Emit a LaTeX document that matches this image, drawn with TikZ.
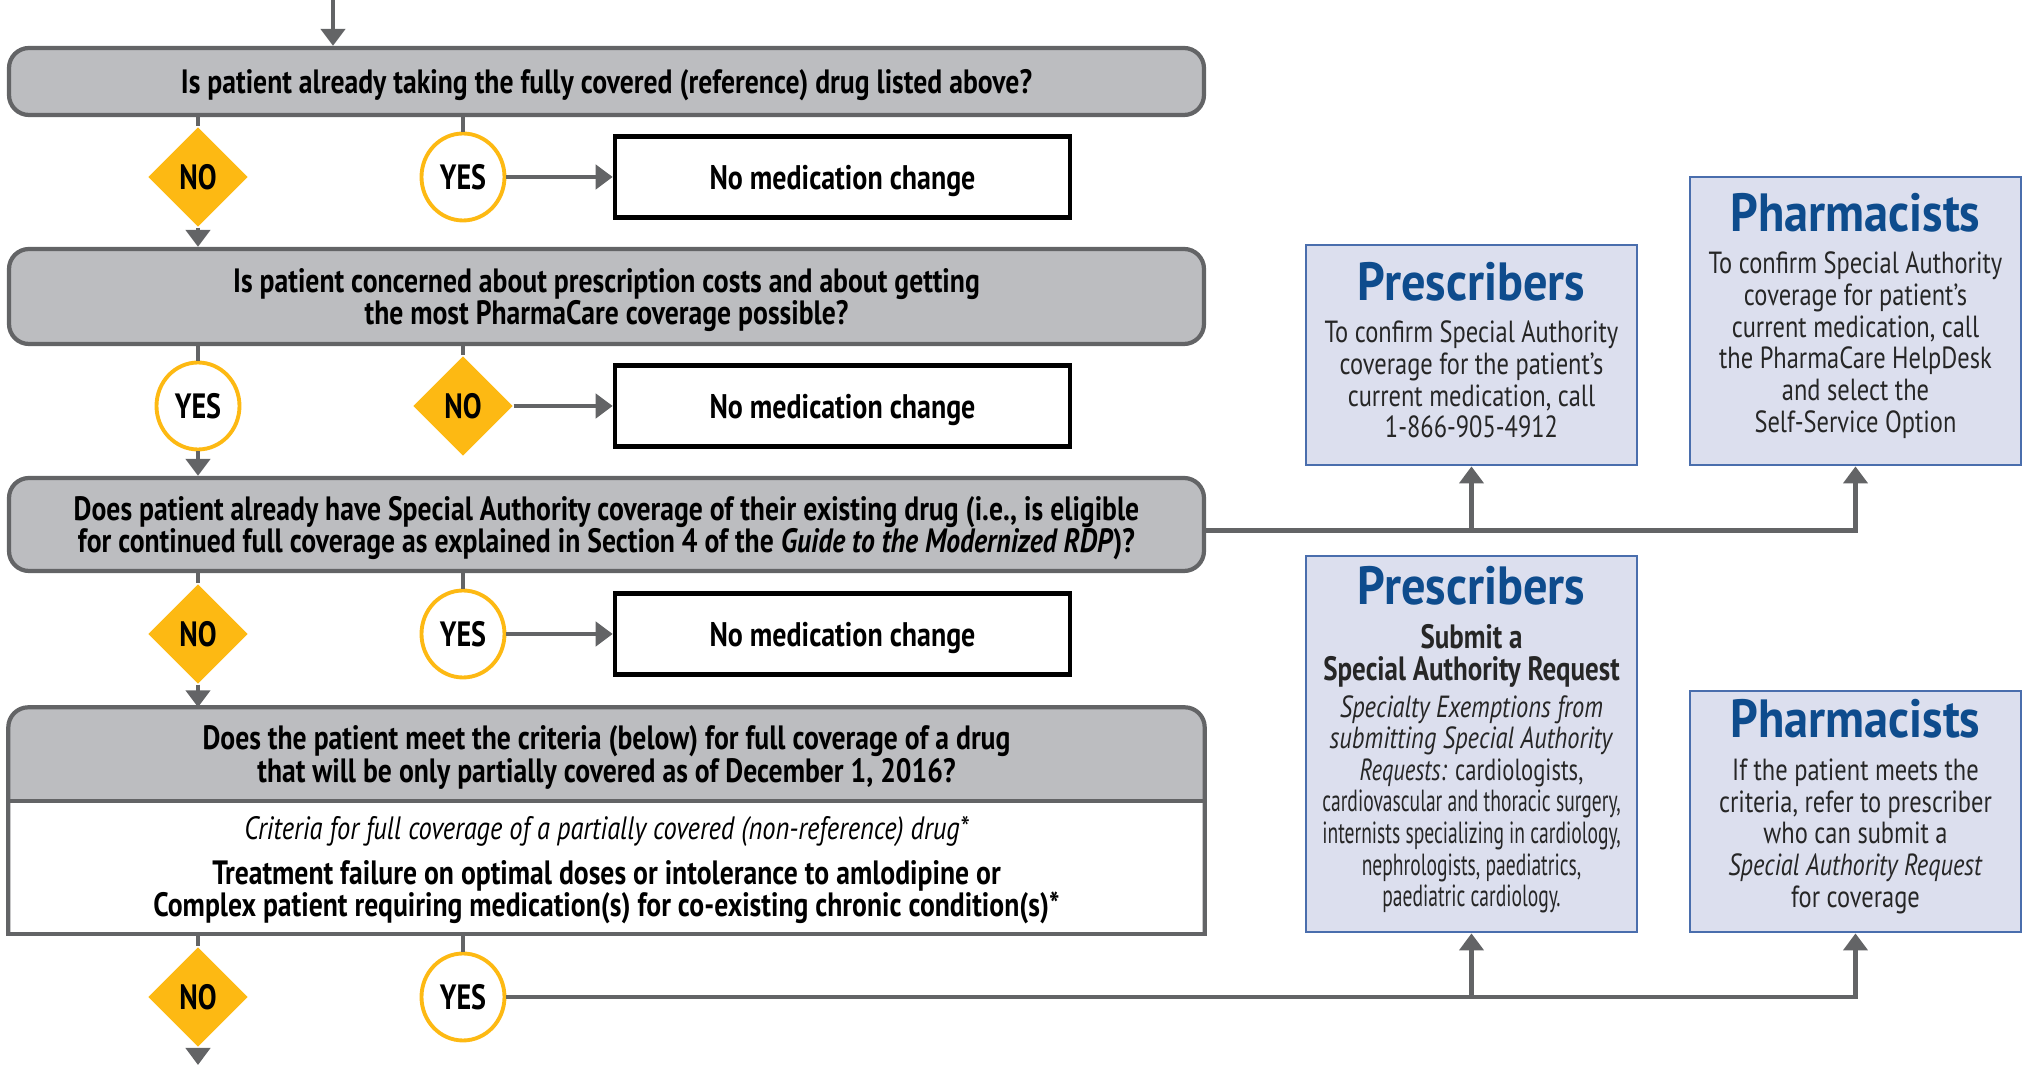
\documentclass[tikz,border=0pt]{standalone}
\usepackage{fontspec}
\setmainfont{PT Sans}
\newfontfamily\condfont{PT Sans}[FakeStretch=0.8]
\newfontfamily\flowfont{PT Sans}[FakeStretch=0.82]
\newfontfamily\snugfont{PT Sans}[FakeStretch=0.74]
\newfontfamily\tightfont{PT Sans}[FakeStretch=0.64]
\newfontfamily\headfont{PT Sans}[FakeStretch=0.9]
\usetikzlibrary{shapes.geometric, arrows.meta, backgrounds}
\definecolor{boxgray}{RGB}{188,189,192}
\definecolor{flowgray}{RGB}{99,100,102}
\definecolor{markyellow}{RGB}{253,185,19}
\definecolor{infofill}{RGB}{220,223,238}
\definecolor{infoline}{RGB}{74,110,173}
\definecolor{infotitle}{RGB}{14,76,141}
\newcommand{\infotitle}[1]{{\color{infotitle}\headfont\bfseries\fontsize{15.3}{17}\selectfont #1}}
\tikzset{
    question box/.style = {rectangle, rounded corners=2mm, draw=flowgray, line width=1.2pt, fill=boxgray, minimum width=119.5mm, align=center, text depth=0pt, font=\flowfont\bfseries\fontsize{9.6}{9.2}\selectfont},
    question text/.style = {rectangle, minimum width=119.5mm, align=center, text depth=0pt, font=\flowfont\bfseries\fontsize{9.6}{9.2}\selectfont},
    criteria text/.style = {rectangle, minimum width=119.5mm, align=center, text depth=0pt, font=\flowfont\bfseries\fontsize{9.6}{9.1}\selectfont},
    box edge/.style = {draw=flowgray, line width=1.2pt, line cap=rect},
    no mark/.style = {diamond, fill=markyellow, minimum width=10mm, minimum height=10mm, inner sep=0pt, font=\condfont\bfseries\fontsize{10}{12}\selectfont},
    yes mark/.style = {ellipse, draw=markyellow, line width=1.1pt, fill=white, minimum width=8.3mm, minimum height=8.7mm, inner sep=0pt, font=\condfont\bfseries\fontsize{10}{12}\selectfont},
    result box/.style = {rectangle, draw=black, line width=1.3pt, fill=white, minimum width=45.5mm, minimum height=8.1mm, text depth=0pt, font=\flowfont\bfseries\fontsize{9.7}{11}\selectfont},
    info box/.style = {rectangle, draw=infoline, line width=0.8pt, fill=infofill, minimum width=33.1mm, inner sep=1pt, align=center, text=black!85, font=\condfont\fontsize{8.7}{9}\selectfont},
    flow line/.style = {draw=flowgray, line width=1.3pt},
    flow arrow/.style = {flow line, -{Triangle[width=2.4mm, length=1.7mm]}}
}
\begin{document}
\begin{tikzpicture}[x=0.1mm, y=-0.1mm]
        \useasboundingbox (0,0) rectangle (2026,1065);
        \coordinate (start) at (333,0);
        \coordinate (finish) at (198,1065);

        \node[question box, minimum height=6.7mm] (qone) at (606.5,81.5) {Is patient already taking the fully covered (reference) drug listed above?};
        \node[question box, minimum height=9.5mm] (qtwo) at (606.5,296.5) {Is patient concerned about prescription costs and about getting\\the most PharmaCare coverage possible?};
        \node[question box, minimum height=9.3mm] (qthree) at (606.5,524.5) {Does patient already have Special Authority coverage of their existing drug (i.e., is eligible\\for continued full coverage as explained in Section 4 of the \textit{Guide to the Modernized RDP})?};
        \node[question text, minimum height=9.2mm] (qfour) at (606.5,754) {Does the patient meet the criteria (below) for full coverage of a drug\\that will be only partially covered as of December 1, 2016?};
        \node[criteria text, minimum height=13.3mm] (crit) at (606.5,866.5) {{\mdseries\itshape\fontsize{9.2}{9.1}\selectfont Criteria for full coverage of a partially covered (non-reference) drug*}\\[3.5pt]
            Treatment failure on optimal doses or intolerance to amlodipine or\\Complex patient requiring medication(s) for co-existing chronic condition(s)*};

        \node[no mark] (noone) at (198,177) {NO};
        \node[yes mark] (yesone) at (463,177) {YES};
        \node[result box] (keepone) at (842.5,177) {No medication change};
        \node[yes mark] (yestwo) at (198,406) {YES};
        \node[no mark] (notwo) at (463,406) {NO};
        \node[result box] (keeptwo) at (842.5,406) {No medication change};
        \node[no mark] (nothree) at (198,634) {NO};
        \node[yes mark] (yesthree) at (463,634) {YES};
        \node[result box] (keepthree) at (842.5,634) {No medication change};
        \node[no mark] (nofour) at (198,997) {NO};
        \node[yes mark] (yesfour) at (463,997) {YES};

        \node[info box, minimum height=22mm, text depth=2.8pt] (prescone) at (1471.5,355) {\infotitle{Prescribers}\\[3.05pt]
            To confirm Special Authority\\coverage for the patient’s\\current medication, call\\1-866-905-4912};
        \node[info box, minimum height=28.8mm, text depth=4.7pt] (pharmone) at (1855.5,321) {\infotitle{Pharmacists}\\[3.05pt]
            To confirm Special Authority\\coverage for patient’s\\current medication, call\\the PharmaCare HelpDesk\\and select the\\Self-Service Option};
        \node[info box, minimum height=37.6mm, text depth=4.3pt] (presctwo) at (1471.5,744) {\infotitle{Prescribers}\\[3.6pt]
            {\bfseries\fontsize{9.6}{11}\selectfont Submit a}\\{\bfseries\fontsize{9.6}{11}\selectfont Special Authority Request}\\[1.5pt]
            \textit{Specialty Exemptions from}\\\textit{submitting Special Authority}\\{\snugfont\textit{Requests:} cardiologists,}\\{\tightfont cardiovascular and thoracic surgery,}\\{\tightfont internists specializing in cardiology,}\\{\tightfont nephrologists, paediatrics,}\\{\tightfont paediatric cardiology.}};
        \node[info box, minimum height=24.1mm, text depth=4.7pt] (pharmtwo) at (1855.5,811.5) {\infotitle{Pharmacists}\\[3.3pt]
            If the patient meets the\\criteria, refer to prescriber\\who can submit a\\\textit{Special Authority Request}\\for coverage};

        \begin{scope}[on background layer]
            \fill[boxgray, rounded corners=2mm] (qfour.south west) -- (qfour.north west) -- (qfour.north east) -- (qfour.south east);
        \end{scope}
        \draw[box edge, rounded corners=2mm] (crit.south west) -- (qfour.north west) -- (qfour.north east) -- (crit.south east);
        \draw[box edge] (qfour.south west) -- (qfour.south east);
        \draw[box edge] (crit.south west) -- (crit.south east);

        \draw[flow arrow] (start) -- (start |- qone.north);
        \draw[flow line] (qone.south -| noone) -- (noone);
        \draw[flow arrow] (noone) -- (noone |- qtwo.north);
        \draw[flow line] (qone.south -| yesone) -- (yesone);
        \draw[flow arrow] (yesone) -- (keepone);

        \draw[flow line] (qtwo.south -| yestwo) -- (yestwo);
        \draw[flow arrow] (yestwo) -- (yestwo |- qthree.north);
        \draw[flow line] (qtwo.south -| notwo) -- (notwo);
        \draw[flow arrow] (notwo) -- (keeptwo);

        \draw[flow line] (qthree.south -| nothree) -- (nothree);
        \draw[flow arrow] (nothree) -- (nothree |- qfour.north);
        \draw[flow line] (qthree.south -| yesthree) -- (yesthree);
        \draw[flow arrow] (yesthree) -- (keepthree);
        \draw[flow arrow] ([yshift=-0.6mm]qthree.east) -| (pharmone.south);
        \draw[flow arrow] ([yshift=-0.6mm]qthree.east -| prescone) -- (prescone.south);

        \draw[flow line] (crit.south -| nofour) -- (nofour);
        \draw[flow arrow] (nofour) -- (finish);
        \draw[flow line] (crit.south -| yesfour) -- (yesfour);
        \draw[flow arrow] (yesfour) -| (pharmtwo.south);
        \draw[flow arrow] (yesfour -| presctwo) -- (presctwo.south);
\end{tikzpicture}
\end{document}
